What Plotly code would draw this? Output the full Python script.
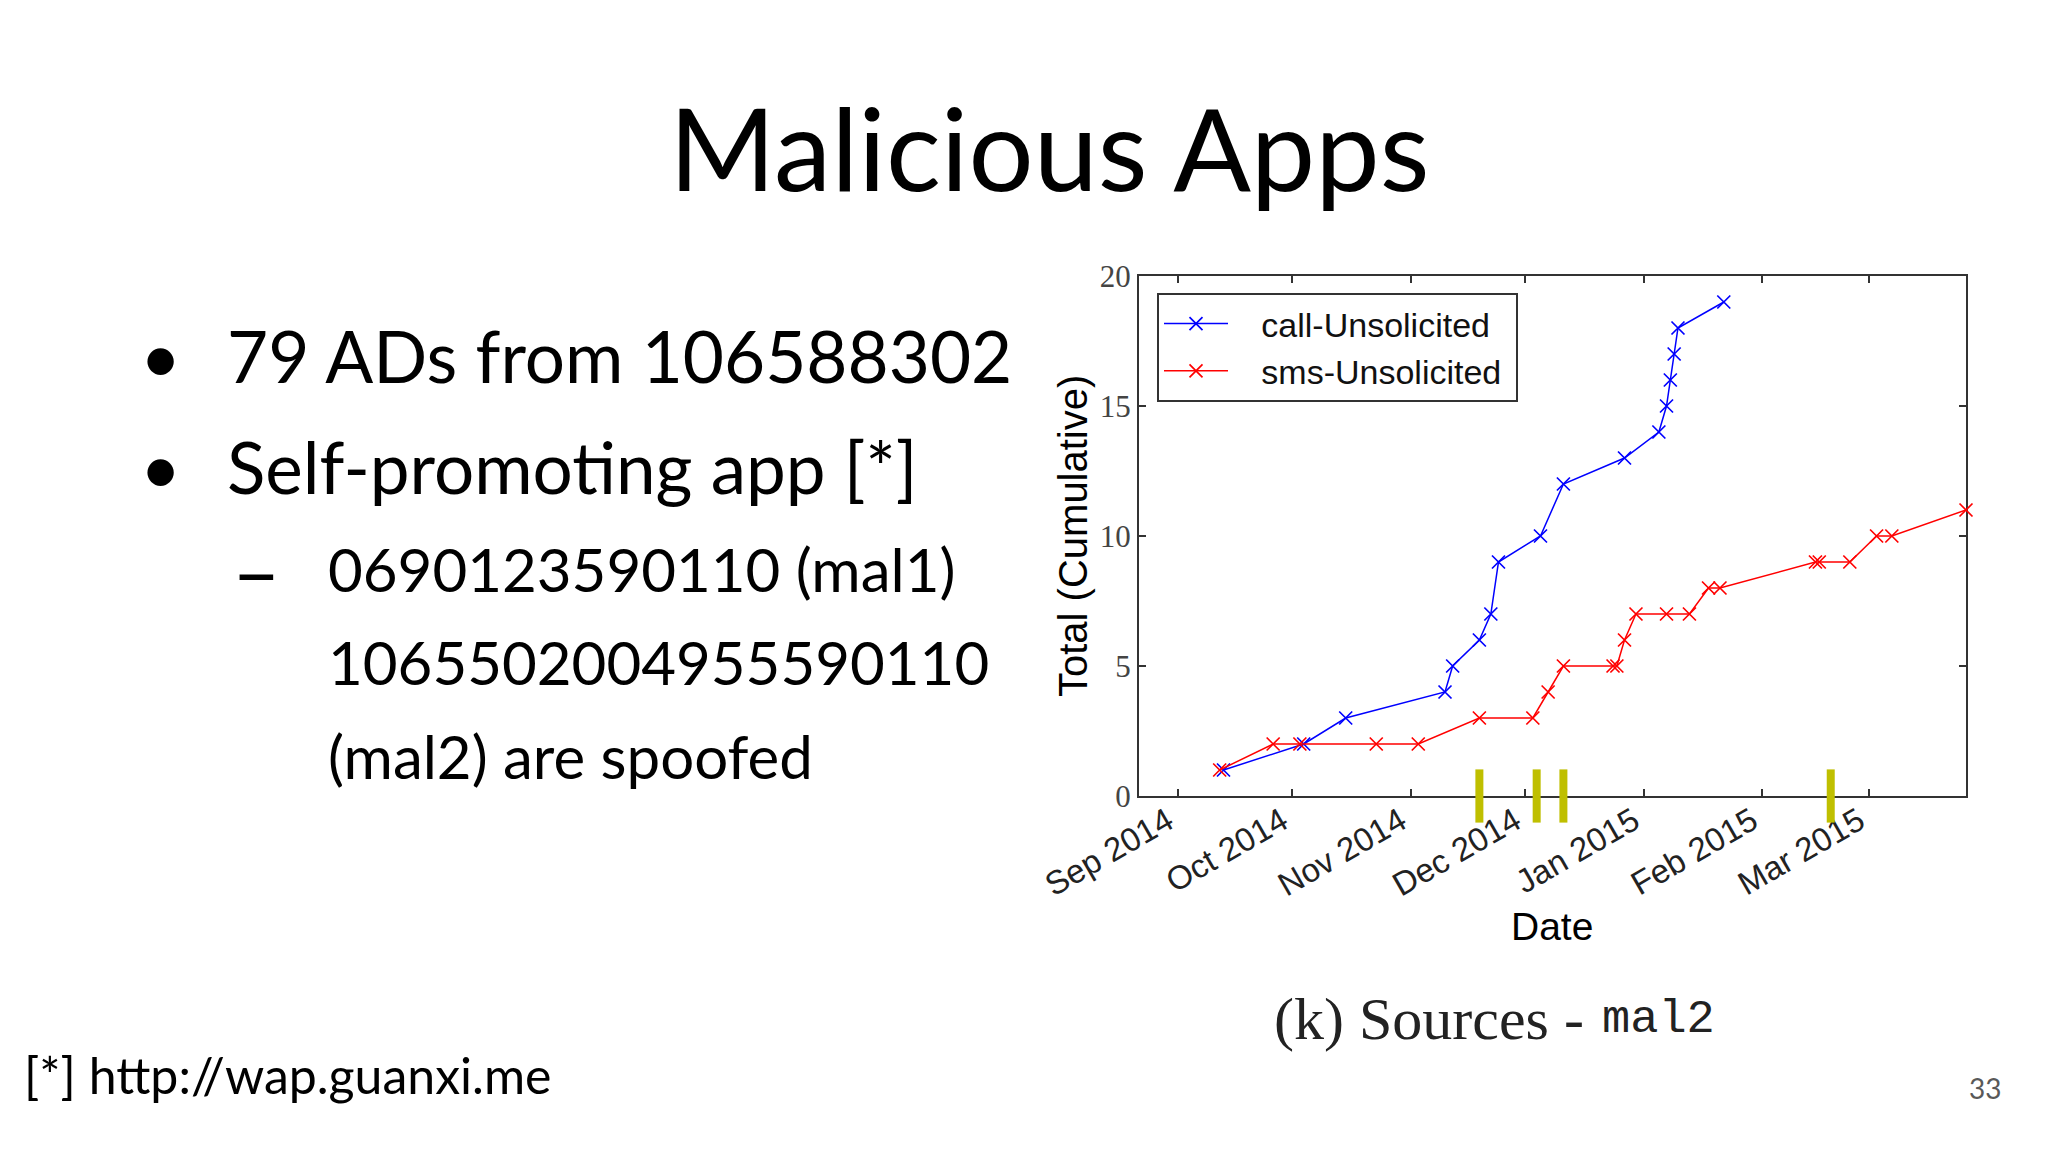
import plotly.graph_objects as go

W, H = 2048, 1152
OFF = 8  # page body margin compensation (px)

# ---------------- data ----------------
call_dates = ["2014-09-13", "2014-10-04", "2014-10-15", "2014-11-10", "2014-11-12",
              "2014-11-19", "2014-11-22", "2014-11-24", "2014-12-05", "2014-12-11",
              "2014-12-27", "2015-01-05", "2015-01-07", "2015-01-08", "2015-01-09",
              "2015-01-10", "2015-01-22"]
call_totals = [1, 2, 3, 4, 5, 6, 7, 9, 10, 12, 13, 14, 15, 16, 17, 18, 19]

sms_dates = ["2014-09-12", "2014-09-26", "2014-10-03", "2014-10-23", "2014-11-03",
             "2014-11-19", "2014-12-03", "2014-12-07", "2014-12-11", "2014-12-24",
             "2014-12-25", "2014-12-27", "2014-12-30", "2015-01-07", "2015-01-13",
             "2015-01-18", "2015-01-21", "2015-02-15", "2015-02-16", "2015-02-24",
             "2015-03-03", "2015-03-07", "2015-03-26 10:00"]
sms_totals = [1, 2, 2, 2, 2, 3, 3, 4, 5, 5, 5, 6, 7, 7, 7, 8, 8, 9, 9, 9, 10, 10, 11]

event_dates = ["2014-11-19", "2014-12-04", "2014-12-11", "2015-02-19"]
event_level = [0, 0, 0, 0]

month_ticks = ["2014-09-01", "2014-10-01", "2014-11-01", "2014-12-01",
               "2015-01-01", "2015-02-01", "2015-03-01"]
month_labels = ["Sep 2014", "Oct 2014", "Nov 2014", "Dec 2014",
                "Jan 2015", "Feb 2015", "Mar 2015"]
y_ticks = [0, 5, 10, 15, 20]

NB = "\u00a0"

# ---------------- figure ----------------
fig = go.Figure()

fig.add_trace(go.Scatter(
    x=call_dates, y=call_totals, mode="lines+markers",
    name=NB * 3 + "call-Unsolicited" + NB,
    line=dict(color="#0000ff", width=1.5),
    marker=dict(symbol="x-thin", size=13, color="#0000ff",
                line=dict(width=1.7, color="#0000ff")),
    cliponaxis=False))

fig.add_trace(go.Scatter(
    x=sms_dates, y=sms_totals, mode="lines+markers",
    name=NB * 3 + "sms-Unsolicited" + NB,
    line=dict(color="#ff0000", width=1.5),
    marker=dict(symbol="x-thin", size=13, color="#ff0000",
                line=dict(width=1.7, color="#ff0000")),
    cliponaxis=False))

fig.add_trace(go.Scatter(
    x=event_dates, y=event_level, mode="markers", showlegend=False,
    cliponaxis=False,
    marker=dict(symbol="line-ns", size=38, color="#bfbf00",
                line=dict(width=8, color="#bfbf00"))))

axis_common = dict(showline=True, linecolor="#333333", linewidth=2, mirror="ticks",
                   ticks="inside", ticklen=7, tickwidth=1.5, tickcolor="#333333",
                   showgrid=False, zeroline=False, layer="below traces",
                   automargin=False)

fig.update_layout(
    width=W, height=H, autosize=False,
    margin=dict(l=0, r=0, t=0, b=0, pad=0, autoexpand=False),
    paper_bgcolor="white", plot_bgcolor="white",
    xaxis=dict(domain=[(1139 - OFF) / W, (1966 - OFF) / W], type="date",
               range=["2014-08-21 21:00", "2015-03-26 10:00"],
               tickmode="array", tickvals=month_ticks, ticktext=month_labels,
               tickangle=-30, ticklabelshift=-10, ticklabelstandoff=-9,
               tickfont=dict(family="Liberation Sans", size=33, color="#222222"),
               **axis_common),
    yaxis=dict(domain=[1 - (796 - OFF) / H, 1 - (276 - OFF) / H], range=[0, 20],
               tickmode="array", tickvals=y_ticks,
               tickfont=dict(family="Liberation Serif", size=31, color="#444444"),
               **axis_common),
    legend=dict(x=(1157 - OFF) / W, y=1 - (293 - OFF) / H, xanchor="left",
                yanchor="top",
                bgcolor="white", bordercolor="#333333", borderwidth=2,
                font=dict(family="Liberation Sans", size=34, color="#111111"),
                itemwidth=64, tracegroupgap=0),
    showlegend=True,
)


def note(text, x, y, size, family="Lato", color="black", xanchor="left",
         yanchor="middle", angle=0):
    fig.add_annotation(text=text, x=(x - OFF) / W, y=1 - (y - OFF) / H,
                       xref="paper", yref="paper",
                       showarrow=False, xanchor=xanchor, yanchor=yanchor,
                       textangle=angle,
                       font=dict(family=family, size=size, color=color))


# slide texts
note("Malicious Apps", 1049, 146, 115, xanchor="center")
note("•", 160, 355, 71, xanchor="center")
note("79 ADs from 106588302", 225, 355, 71)
note("•", 160, 466, 71, xanchor="center")
note("Self-promoting app [*]", 225, 466, 71)
note("–", 256, 569, 84, xanchor="center")
note("0690123590110 (mal1)", 326, 569, 60)
note("1065502004955590110", 326, 662, 60)
note("(mal2) are spoofed", 326, 756, 60)
note("[*] http://wap.guanxi.me", 22, 1075, 50)
note("33", 1985, 1088, 28, family="Lato", color="#595959", xanchor="center")

# chart axis titles & caption
note("Total (Cumulative)", 1073, 536, 40, family="Liberation Sans",
     xanchor="center", angle=-90)
note("Date", 1552, 926, 39, family="Liberation Sans", xanchor="center")
note("(k) Sources -", 1586, 1019, 60, family="Liberation Serif", color="#222222",
     xanchor="right")
note("mal2", 1600, 1019, 47, family="Liberation Mono", color="#222222")

fig.write_html("out.html")
